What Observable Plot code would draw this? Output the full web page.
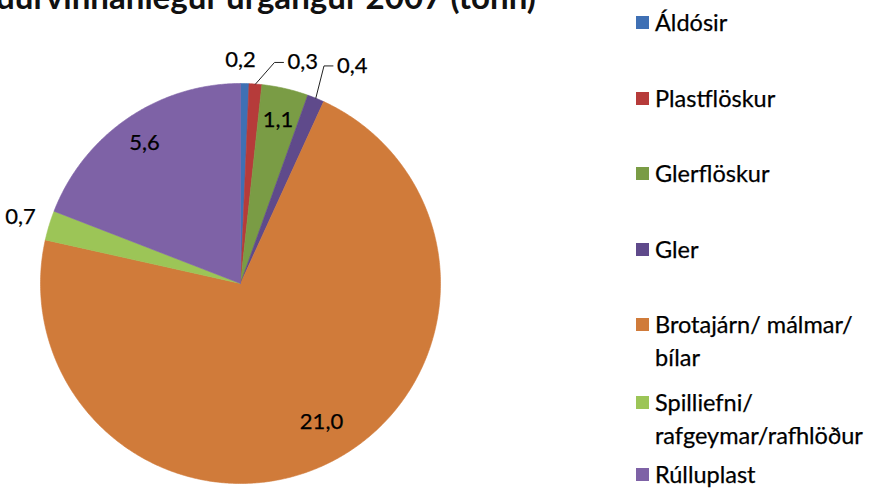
<!DOCTYPE html>
<html>
<head>
<meta charset="utf-8">
<script src="https://cdn.jsdelivr.net/npm/d3@7"></script>
<script src="https://cdn.jsdelivr.net/npm/@observablehq/plot@0.6"></script>
<style>
  html, body { margin: 0; padding: 0; background: #fff; }
  #wrap { position: relative; width: 875px; height: 488px; overflow: hidden; font-family: Lato, "Open Sans", sans-serif; }
  #title { position: absolute; left: 0; top: 0; }
  #legend { position: absolute; left: 0; top: 0; width: 875px; height: 488px; pointer-events: none; }
  .item { position: absolute; left: 636px; display: flex; align-items: flex-start; font-size: 23.5px; line-height: 30px; color: #000; -webkit-text-stroke: 0.25px #000; }
  .sw { width: 13px; height: 13px; margin-top: 9px; margin-right: 6px; flex: none; }
  .lab { white-space: pre; }
</style>
</head>
<body>
<div id="wrap"></div>
<script>
// ---- data ----
const title = "Endurvinnanlegur úrgangur 2007 (tonn)";
const categories = ["Áldósir", "Plastflöskur", "Glerflöskur", "Gler", "Brotajárn/ málmar/ bílar", "Spilliefni/ rafgeymar/rafhlöður", "Rúlluplast"];
const values = [0.2, 0.3, 1.1, 0.4, 21.0, 0.7, 5.6];
const colors = ["#3f70b4", "#b63b3a", "#7a9c45", "#5f4a8b", "#d07b3a", "#9cc557", "#7e62a6"];

// ---- layout (not data) ----
// label placement: radius factor, angle shift in degrees, leader line
const labelLayout = [
  {r: 1.12, da: -1.2},
  {r: 1.13, da: 7.7, leader: true},
  {r: 0.84, da: 0},
  {r: 1.19, da: 1.8, leader: true},
  {r: 0.80, da: -4},
  {r: 1.15, da: 0},
  {r: 0.85, da: 0}
];
const legendY = [22, 98, 173, 249, 324, 402, 474];
const legendLine = 33;
const wrapLegend = s => s.length > 20 ? s.slice(0, s.lastIndexOf(" ")) + "\n" + s.slice(s.lastIndexOf(" ") + 1) : s;

const fmt = v => d3.format(".1f")(v).replace(".", ",");
const arcs = d3.pie().sort(null).value(d => d.value).startAngle(0).endAngle(2 * Math.PI)(
  categories.map((c, i) => ({name: c, value: values[i], color: colors[i], i}))
);
const pt = (a, r) => ({x: r * Math.sin(a), y: r * Math.cos(a)});

const marks = [];
for (const a of arcs) {
  const poly = [pt(0, 0)];
  const n = Math.max(2, Math.ceil((a.endAngle - a.startAngle) / (Math.PI / 360)));
  for (let k = 0; k <= n; k++) poly.push(pt(a.startAngle + (a.endAngle - a.startAngle) * k / n, 1));
  poly.push(pt(0, 0));
  marks.push(Plot.line(poly, {x: "x", y: "y", fill: a.data.color, stroke: a.data.color, strokeWidth: 0.6}));
}

const labels = [];
const leaders = [];
arcs.forEach((a, i) => {
  const L = labelLayout[i];
  const mid = (a.startAngle + a.endAngle) / 2;
  const p = pt(mid + L.da * Math.PI / 180, L.r);
  if (L.leader) {
    const edge = pt(mid, 1);
    leaders.push({id: i, ...edge}, {id: i, x: p.x - 0.065, y: p.y}, {id: i, x: p.x - 0.02, y: p.y});
    labels.push({x: p.x, y: p.y, text: fmt(a.data.value), anchor: "start"});
  } else {
    labels.push({x: p.x, y: p.y, text: fmt(a.data.value), anchor: "middle"});
  }
});
marks.push(Plot.line(leaders, {x: "x", y: "y", z: "id", stroke: "#222", strokeWidth: 1}));
const textStyle = {x: "x", y: "y", text: "text", fontSize: 22, fill: "#000", stroke: "#000", strokeWidth: 0.25};
marks.push(Plot.text(labels.filter(d => d.anchor === "middle"), {...textStyle, textAnchor: "middle"}));
marks.push(Plot.text(labels.filter(d => d.anchor === "start"), {...textStyle, textAnchor: "start"}));

const chart = Plot.plot({
  width: 875,
  height: 488,
  marginLeft: 40,
  marginRight: 435,
  marginTop: 83,
  marginBottom: 5,
  x: {domain: [-1, 1], axis: null},
  y: {domain: [-1, 1], axis: null},
  style: {fontFamily: "Lato, 'Open Sans', sans-serif", background: "white", overflow: "visible"},
  marks
});
const wrap = document.getElementById("wrap");
wrap.appendChild(chart);

// title (cut off at the top as in the reference)
const ns = "http://www.w3.org/2000/svg";
const tsvg = document.createElementNS(ns, "svg");
tsvg.setAttribute("id", "title");
tsvg.setAttribute("width", 875);
tsvg.setAttribute("height", 40);
const tt = document.createElementNS(ns, "text");
tt.setAttribute("y", 9);
tt.setAttribute("font-size", 30);
tt.setAttribute("font-weight", "bold");
tt.setAttribute("font-family", "Lato, 'Open Sans', sans-serif");
tt.setAttribute("fill", "#111");
tt.textContent = title;
tsvg.appendChild(tt);
wrap.appendChild(tsvg);
{
  // fit the visible part ("durvinnanlegur ... (tonn)") to the reference span
  const n = title.length;
  const rest = tt.getSubStringLength(2, n - 2);
  const size = 30 * 540 / rest;
  tt.setAttribute("font-size", size);
  const en = tt.getSubStringLength(0, 2);
  tt.setAttribute("x", -4 - en);
}

// legend
const leg = document.createElement("div");
leg.id = "legend";
categories.forEach((c, i) => {
  const it = document.createElement("div");
  it.className = "item";
  it.style.lineHeight = legendLine + "px";
  it.style.top = (legendY[i] - 16.5) + "px";
  const sw = document.createElement("div");
  sw.className = "sw";
  sw.style.marginTop = "10px";
  sw.style.background = colors[i];
  const lab = document.createElement("div");
  lab.className = "lab";
  lab.textContent = wrapLegend(c);
  it.appendChild(sw);
  it.appendChild(lab);
  leg.appendChild(it);
});
wrap.appendChild(leg);
</script>
</body>
</html>
